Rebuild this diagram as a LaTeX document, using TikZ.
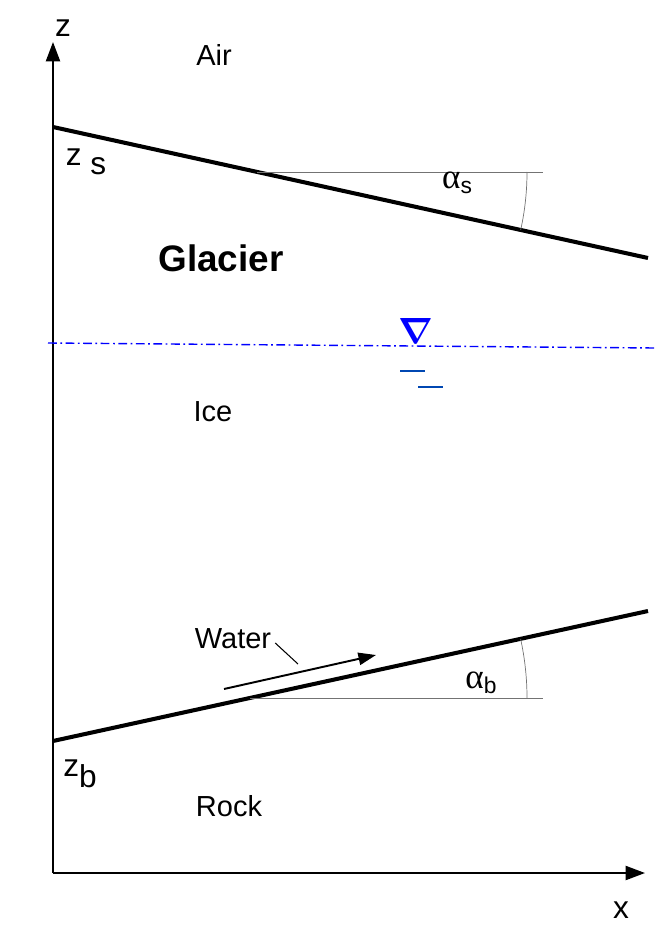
\documentclass[tikz,border=0pt]{standalone}
\usepackage{fontspec}
\setmainfont{Liberation Sans}
\newfontfamily\greekfont{Liberation Serif}
\usepackage{tikz}
\usetikzlibrary{arrows.meta,calc}

\begin{document}
\begin{tikzpicture}[x=0.02cm, y=-0.02cm,
  axis/.style={line width=1.1pt, -{Triangle[length=11pt, width=8pt]}},
  interface/.style={line width=2.3pt},
  helper/.style={draw=black!55, line width=0.4pt},
  lbl/.style={font=\fontsize{16.5}{18}\selectfont, inner sep=1pt},
  big/.style={font=\fontsize{18}{20}\selectfont, inner sep=1pt},
  wl/.style={blue, line width=0.8pt, dash pattern=on 5pt off 2pt on 1pt off 2pt}
]
  \useasboundingbox (0,0) rectangle (663,939);
  % axes
  \coordinate (O) at (53,873);
  \coordinate (ztip) at (53,42);
  \coordinate (xtip) at (645,873);
  \draw[axis] (O) -- (ztip);
  \draw[axis] (O) -- (xtip);
  \node[big] (zlab) at (63,28) {z};
  \node[big] (xlab) at (621,910) {x};

  % ice surface
  \coordinate (s0) at (53,127);
  \coordinate (s1) at (648,258);
  \draw[interface] (s0) -- (s1);
  \coordinate (sa) at (257,172);
  \coordinate (sb) at (543,172);
  \draw[helper] (sa) -- (sb);
  \draw[helper] ($(sa)+(270,0)$) arc[start angle=0, end angle=12.4, radius=270];
  \node[lbl] (alphas) at (457,183) {{\greekfont\fontsize{20}{22}\selectfont α}\raisebox{-3pt}{\fontsize{13}{15}\selectfont s}};
  \node[big] (zs) at (86,162) {z\raisebox{-5pt}{ s}};

  % labels
  \node[lbl] (air) at (214,55) {Air};
  \node[lbl, font=\fontsize{21}{23}\selectfont\bfseries] (glacier) at (221,258) {Glacier};
  \node[lbl] (ice) at (213,412) {Ice};
  \node[lbl] (rock) at (229,806) {Rock};

  % water table
  \coordinate (w0) at (48,343);
  \coordinate (w1) at (655,348);
  \draw[wl] (w0) -- (w1);
  \node[blue, font=\fontsize{22}{24}\selectfont\boldmath, inner sep=0pt] (tri) at (416,331) {$\nabla$};
  \draw[blue!60!cyan!70!black, line width=0.7pt] (400,371) -- (425,371);
  \draw[blue!60!cyan!70!black, line width=0.7pt] (418,387) -- (443,387);

  % bed
  \coordinate (b0) at (53,741);
  \coordinate (b1) at (648,611);
  \draw[interface] (b0) -- (b1);
  \coordinate (ba) at (250,698);
  \coordinate (bb) at (543,698);
  \draw[helper] (ba) -- (bb);
  \draw[helper] ($(ba)+(277,0)$) arc[start angle=0, end angle=-12.3, radius=277];
  \node[lbl] (alphab) at (481,683) {{\greekfont\fontsize{20}{22}\selectfont α}\raisebox{-3pt}{\fontsize{13}{15}\selectfont b}};
  \node[big] (zb) at (80,774) {z\raisebox{-6pt}{b}};

  % water flow
  \node[lbl] (water) at (233,639) {Water};
  \coordinate (wt) at (298,664);
  \draw[line width=0.6pt] (water.east) ++(2,4) -- (wt);
  \coordinate (f0) at (224,689);
  \coordinate (f1) at (376,655);
  \draw[line width=1.1pt, -{Triangle[length=10pt, width=7pt]}] (f0) -- (f1);
\end{tikzpicture}
\end{document}
